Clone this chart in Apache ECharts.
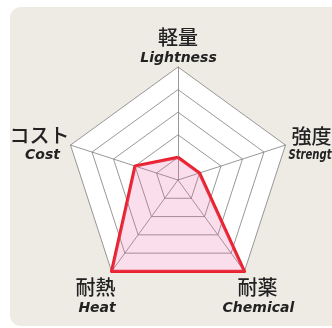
<!DOCTYPE html>
<html><head><meta charset="utf-8">
<script src="https://cdn.jsdelivr.net/npm/echarts@6/dist/echarts.min.js"></script>
<style>html,body{margin:0;padding:0;background:#fff;}#c{width:332px;height:328px;}</style>
</head><body><div id="c"></div>
<script>
// Data (indicator order follows ECharts radar: top, then counter-clockwise)
const namesJa = ['軽量', 'コスト', '耐熱', '耐薬', '強度'];
const namesEn = ['Lightness', 'Cost', 'Heat', 'Chemical', 'Strength'];
const values = [1, 2, 5, 5, 1];
const maxValue = 5;

const cx = 178, cy = 180, R = 113;
const jaFont = '"Noto Sans CJK JP", sans-serif';
const enFont = '"DejaVu Sans", sans-serif';
const txt = '#222222';

const vert = i => { const a = Math.PI/2 + i*2*Math.PI/5; return [cx + R*Math.cos(a), cy - R*Math.sin(a)]; };
const lay = [
  {dx: 0, jy: -30, ey: -9, align: 'center', edx: 0.5},
  {dx: -31, jy: -10, ey: 10, align: 'center', edx: 3},
  {dx: -16, jy: 16, ey: 37, align: 'center', edx: 1.5},
  {dx: 13, jy: 16, ey: 37, align: 'center', edx: 1},
  {dx: 6, jy: -8.5, ey: 10, align: 'left', edx: -3, sx: 0.72}
];
const graphics = [{
  type: 'rect', z: -10, shape: {x: 10, y: 7, width: 340, height: 319, r: 11},
  style: {fill: '#EEEBE5'}, silent: true
}];
namesJa.forEach((n, i) => {
  const [vx, vy] = vert(i); const L = lay[i];
  graphics.push({type: 'text', x: vx + L.dx, y: vy + L.jy, style: {
    text: n, font: '500 20px ' + jaFont, fill: txt, align: L.align, verticalAlign: 'middle'}});
  graphics.push({type: 'text', x: vx + L.dx + (L.edx || 0), y: vy + L.ey, scaleX: L.sx || 1, style: {
    text: namesEn[i], font: 'italic bold 14px ' + enFont,
    fill: txt, align: L.align, verticalAlign: 'middle'}});
});

const chart = echarts.init(document.getElementById('c'), null, {renderer: 'canvas'});
chart.setOption({
  backgroundColor: '#ffffff',
  animation: false,
  graphic: graphics,
  radar: {
    center: [cx, cy],
    radius: R,
    startAngle: 90,
    splitNumber: 5,
    shape: 'polygon',
    indicator: namesEn.map(n => ({name: n, max: maxValue, min: 0})),
    axisName: {show: false},
    axisLine: {lineStyle: {color: '#7d7d7d', width: 0.8}},
    splitLine: {lineStyle: {color: '#7d7d7d', width: 0.8}},
    splitArea: {show: true, areaStyle: {color: ['#ffffff']}}
  },
  series: [{
    type: 'radar',
    symbol: 'none',
    lineStyle: {color: '#E8212B', width: 3.2},
    areaStyle: {color: 'rgba(234,100,160,0.30)'},
    data: [{value: values}]
  }]
});
</script></body></html>
